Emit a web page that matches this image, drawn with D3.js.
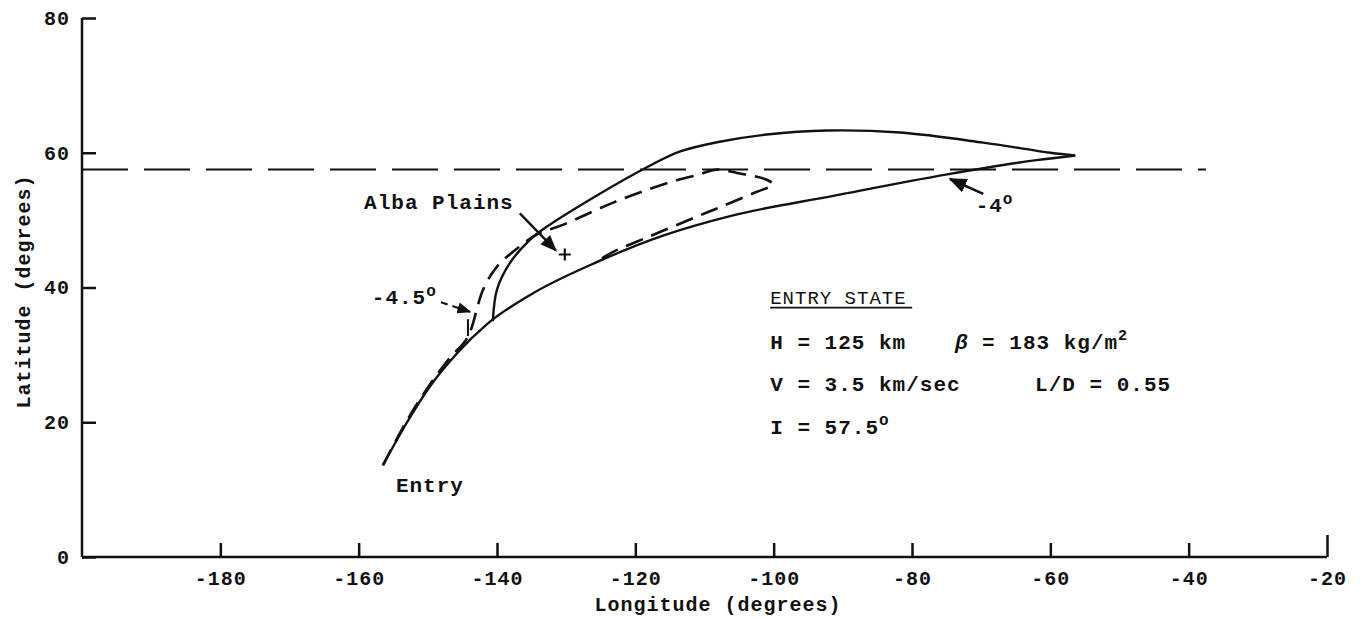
<!DOCTYPE html>
<html>
<head>
<meta charset="utf-8">
<script src="https://cdn.jsdelivr.net/npm/d3@7"></script>
<style>
  body { margin: 0; background: #fff; }
  text { font-family: "Liberation Mono", "DejaVu Sans Mono", monospace; font-weight: bold; fill: #111; letter-spacing: 1px; }
</style>
</head>
<body>
<div id="chart"></div>
<script>
// Chart data (longitude, latitude in degrees)
var xTicks = [-180, -160, -140, -120, -100, -80, -60, -40, -20];
var yTicks = [0, 20, 40, 60, 80];

// solid trajectory, entry to tip (lower branch)
var lowerPath = [[-156.5, 13.6], [-153.0, 20.0], [-149.7, 25.3], [-145.8, 30.2], [-141.4, 34.6],
  [-135.2, 38.9], [-125.5, 43.8], [-116.0, 47.7], [-106.3, 50.6], [-91.4, 53.6],
  [-74.9, 56.8], [-62.0, 58.9], [-56.4, 59.6]];

// solid trajectory, upper branch from the junction
var upperPath = [[-140.6, 35.0], [-140.0, 39.7], [-138.1, 43.7], [-135.2, 47.1], [-133.4, 48.6],
  [-125.5, 53.7], [-117.5, 58.3], [-113.5, 60.2], [-108.0, 61.6], [-101.0, 62.7], [-92.3, 63.3],
  [-81.7, 63.0], [-69.7, 61.5], [-60.0, 60.0], [-56.4, 59.6]];

// -4.5 deg dashed trajectory
var dashedPath = [[-156.5, 13.6], [-153.0, 20.3], [-149.7, 25.6], [-146.8, 29.6], [-144.3, 32.5],
  [-142.0, 39.7], [-140.0, 43.1], [-136.7, 46.1], [-134.2, 47.9], [-130.5, 49.3],
  [-123.2, 52.6], [-116.0, 55.3], [-111.1, 56.7], [-108.2, 57.5], [-105.3, 57.0],
  [-101.0, 56.0], [-100.1, 55.3], [-102.7, 54.1], [-107.8, 51.9], [-112.1, 50.1],
  [-117.9, 47.6], [-123.2, 45.3], [-125.3, 44.0]];

// orbit inclination line
var inclination = 57.5;
var inclinationLon = [-200, -37.5];

var albaSite = [-130.2, 44.9];

var svgWidth = 1363;
var svgHeight = 618;

var svg = d3.select("#chart")
    .append("svg")
    .attr("width", svgWidth)
    .attr("height", svgHeight);

var x = d3.scaleLinear().domain([-200, -20]).range([82, 1327]);
var y = d3.scaleLinear().domain([0, 80]).range([557, 18]);

var defs = svg.append("defs");
defs.append("marker")
    .attr("id", "arrow")
    .attr("viewBox", "0 0 10 10")
    .attr("refX", 9).attr("refY", 5)
    .attr("markerWidth", 7).attr("markerHeight", 7)
    .attr("orient", "auto")
  .append("path")
    .attr("d", "M0,1 L10,5 L0,9 z")
    .attr("fill", "#111");

//Axes
var bottomAxis = d3.axisBottom(x).tickValues(xTicks).tickSize(-14).tickPadding(14);
var leftAxis = d3.axisLeft(y).tickValues(yTicks).tickSize(-14).tickPadding(12);

var gx = svg.append("g")
    .attr("transform", `translate(0, ${y(0)})`)
    .call(bottomAxis);
var gy = svg.append("g")
    .attr("transform", `translate(${x(-200)}, 0)`)
    .call(leftAxis);

[gx, gy].forEach(function(g) {
  g.select(".domain").attr("stroke", "#111").attr("stroke-width", 2.5);
  g.selectAll(".tick line").attr("stroke", "#111").attr("stroke-width", 2.5);
  g.selectAll(".tick text").attr("font-size", 20).attr("fill", "#111")
      .style("font-family", "'Liberation Mono', monospace").style("font-weight", "bold");
});
gx.select(".domain").attr("d", `M${x(-200)},0H${x(-20)}`);
gx.selectAll(".tick").filter(d => d === -20).select("line").attr("y2", -22);
gx.selectAll(".tick text").text(d => "-" + Math.abs(d));
gy.select(".domain").attr("d", `M0,${y(0)}V${y(80)}`);

//Axis labels
svg.append("text")
    .attr("transform", `translate(30, ${(y(0) + y(80)) / 2 + 4}) rotate(-90)`)
    .attr("text-anchor", "middle")
    .attr("font-size", 20)
    .text("Latitude (degrees)");

svg.append("text")
    .attr("x", 718).attr("y", 611)
    .attr("text-anchor", "middle")
    .attr("font-size", 20)
    .text("Longitude (degrees)");

//Inclination line
svg.append("line")
    .attr("x1", x(inclinationLon[0])).attr("x2", x(inclinationLon[1]))
    .attr("y1", y(inclination)).attr("y2", y(inclination))
    .attr("stroke", "#111").attr("stroke-width", 2)
    .attr("stroke-dasharray", "46,16");

//Trajectories
var line = d3.line()
    .x(d => x(d[0]))
    .y(d => y(d[1]))
    .curve(d3.curveCatmullRom.alpha(0.5));

svg.append("path").datum(lowerPath).attr("d", line.curve(d3.curveMonotoneX))
    .attr("fill", "none").attr("stroke", "#111").attr("stroke-width", 2.4);
line.curve(d3.curveCatmullRom.alpha(0.5));
svg.append("path").datum(upperPath).attr("d", line)
    .attr("fill", "none").attr("stroke", "#111").attr("stroke-width", 2.4);
svg.append("path").datum(dashedPath).attr("d", line)
    .attr("fill", "none").attr("stroke", "#111").attr("stroke-width", 2.6)
    .attr("stroke-dasharray", "18,9");

//Alba Plains annotation
svg.append("text")
    .attr("x", x(-148.4)).attr("y", y(51.6))
    .attr("text-anchor", "middle").attr("font-size", 21)
    .text("Alba Plains");
svg.append("line")
    .attr("x1", x(-136.7)).attr("y1", y(51.0))
    .attr("x2", x(-131.5)).attr("y2", y(45.5))
    .attr("stroke", "#111").attr("stroke-width", 2.4)
    .attr("marker-end", "url(#arrow)");
svg.append("path")
    .attr("transform", `translate(${x(albaSite[0])}, ${y(albaSite[1])})`)
    .attr("d", "M-6,0H6M0,-6V6")
    .attr("fill", "none").attr("stroke", "#111").attr("stroke-width", 2.2);

//-4.5 deg label
svg.append("text")
    .attr("x", x(-148.7)).attr("y", y(37.6))
    .attr("text-anchor", "end").attr("font-size", 21)
    .text("-4.5")
  .append("tspan").attr("dy", -8).attr("font-size", 16).text("o");
svg.append("line")
    .attr("x1", x(-148.1)).attr("y1", y(37.8))
    .attr("x2", x(-143.9)).attr("y2", y(36.4))
    .attr("stroke", "#111").attr("stroke-width", 2)
    .attr("stroke-dasharray", "7,5")
    .attr("marker-end", "url(#arrow)");
svg.append("line")
    .attr("x1", x(-144.2)).attr("y1", y(35.3))
    .attr("x2", x(-144.2)).attr("y2", y(32.8))
    .attr("stroke", "#111").attr("stroke-width", 2);

//-4 deg label
svg.append("text")
    .attr("x", x(-70.8)).attr("y", y(51.2))
    .attr("font-size", 21)
    .text("-4")
  .append("tspan").attr("dy", -8).attr("font-size", 16).text("o");
svg.append("line")
    .attr("x1", x(-69.7)).attr("y1", y(53.9))
    .attr("x2", x(-74.5)).attr("y2", y(56.1))
    .attr("stroke", "#111").attr("stroke-width", 2.6)
    .attr("marker-end", "url(#arrow)");

//Entry
svg.append("text")
    .attr("x", x(-149.7)).attr("y", y(9.6))
    .attr("text-anchor", "middle").attr("font-size", 21)
    .text("Entry");

//Entry state block
var col1 = x(-100.5);
var col2 = x(-73.8);
var col3 = x(-62.2);
svg.append("text")
    .attr("x", col1).attr("y", y(37.6))
    .attr("font-size", 19)
    .style("font-weight", "normal")
    .text("ENTRY STATE");
svg.append("line")
    .attr("x1", col1).attr("x2", col1 + 142)
    .attr("y1", y(37.6) + 4).attr("y2", y(37.6) + 4)
    .attr("stroke", "#111").attr("stroke-width", 1.6);

svg.append("text").attr("x", col1).attr("y", y(30.8)).attr("font-size", 21)
    .text("H = 125 km");
var beta = svg.append("text").attr("x", col2).attr("y", y(30.8)).attr("font-size", 21);
beta.append("tspan").style("font-style", "italic").text("β");
beta.append("tspan").text(" = 183 kg/m");
beta.append("tspan").attr("dy", -9).attr("font-size", 15).text("2");

svg.append("text").attr("x", col1).attr("y", y(24.6)).attr("font-size", 21)
    .text("V = 3.5 km/sec");
svg.append("text").attr("x", col3).attr("y", y(24.6)).attr("font-size", 21)
    .text("L/D = 0.55");

svg.append("text").attr("x", col1).attr("y", y(18.2)).attr("font-size", 21)
    .text("I = 57.5")
  .append("tspan").attr("dy", -9).attr("font-size", 16).text("o");
</script>
</body>
</html>
